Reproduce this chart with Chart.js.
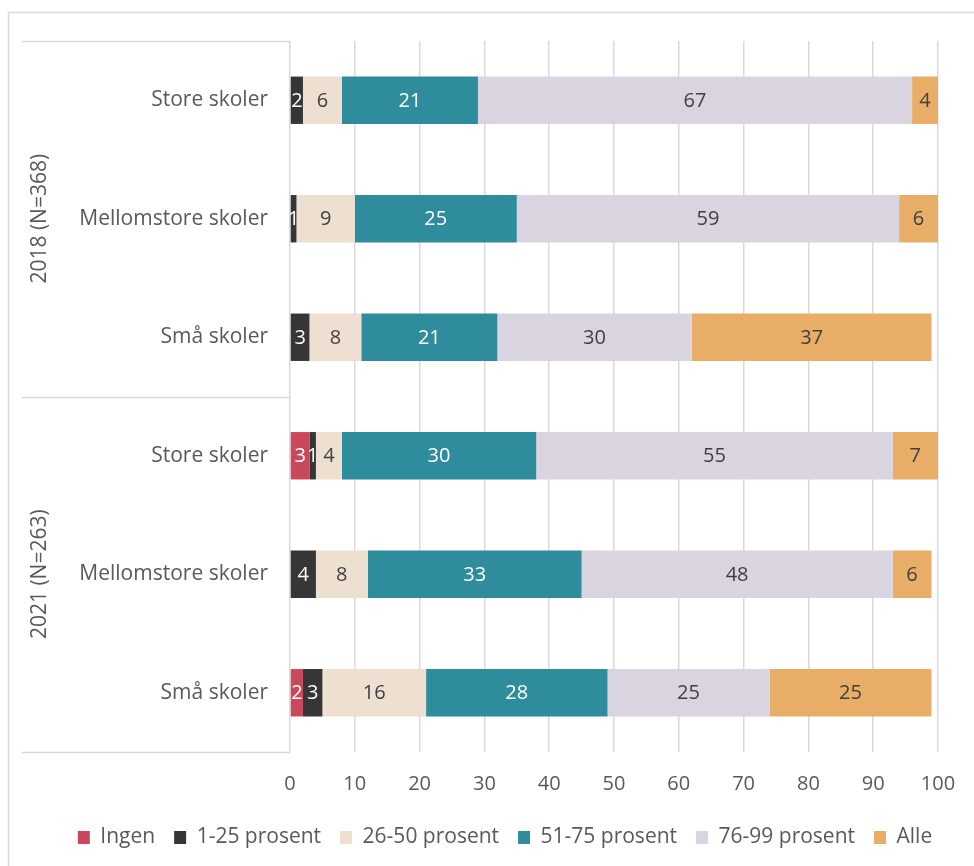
<!DOCTYPE html>
<html>
<head>
<meta charset="utf-8">
<script src="https://cdn.jsdelivr.net/npm/chart.js@4.4.1/dist/chart.umd.min.js"></script>
<style>
  html, body { margin: 0; padding: 0; background: #fff; }
  #wrap { width: 974px; height: 866px; position: relative; }
</style>
</head>
<body>
<div id="wrap"><canvas id="chart"></canvas></div>
<script>
// Kategorier (skolestørrelse) og grupper (år)
const categories = ['Store skoler', 'Mellomstore skoler', 'Små skoler', 'Store skoler', 'Mellomstore skoler', 'Små skoler'];
const groups = ['2018 (N=368)', '2021 (N=263)'];
const xTicks = [0, 10, 20, 30, 40, 50, 60, 70, 80, 90, 100];

// Andeler per svarkategori
const ingen      = [0, 0, 0, 3, 0, 2];
const prosent1   = [2, 1, 3, 1, 4, 3];
const prosent26  = [6, 9, 8, 4, 8, 16];
const prosent51  = [21, 25, 21, 30, 33, 28];
const prosent76  = [67, 59, 30, 55, 48, 25];
const alle       = [4, 6, 37, 7, 6, 25];

const FONT = '"Open Sans", sans-serif';
const GREY = '#595959';
const LINE = '#D9D9D9';

const series = [
    { label: 'Ingen', data: ingen, color: '#C9485B', text: '#ffffff' },
    { label: '1-25 prosent', data: prosent1, color: '#363636', text: '#ffffff' },
    { label: '26-50 prosent', data: prosent26, color: '#EDE0D1', text: '#404040' },
    { label: '51-75 prosent', data: prosent51, color: '#2E8C9D', text: '#ffffff' },
    { label: '76-99 prosent', data: prosent76, color: '#DAD3E0', text: '#404040' },
    { label: 'Alle', data: alle, color: '#E8AE67', text: '#404040' }
];

// Tall inni søylene
const valueLabels = {
    id: 'valueLabels',
    afterDatasetsDraw(chart) {
        const ctx = chart.ctx;
        ctx.save();
        ctx.font = '20px ' + FONT;
        ctx.textAlign = 'center';
        ctx.textBaseline = 'middle';
        chart.data.datasets.forEach((ds, i) => {
            const meta = chart.getDatasetMeta(i);
            meta.data.forEach((bar, j) => {
                const v = ds.data[j];
                if (!v) return;
                ctx.fillStyle = series[i].text;
                ctx.fillText(String(v), (bar.x + bar.base) / 2, bar.y + 1);
            });
        });
        ctx.restore();
    }
};

// Ramme, gruppelinjer og gruppetekster
const frame = {
    id: 'frame',
    beforeDraw(chart) {
        const ctx = chart.ctx;
        const area = chart.chartArea;
        ctx.save();
        ctx.strokeStyle = LINE;
        ctx.lineWidth = 1.5;
        ctx.beginPath();
        ctx.moveTo(8.5, 866);
        ctx.lineTo(8.5, 12.5);
        ctx.lineTo(974, 12.5);
        ctx.stroke();

        const mid = (area.top + area.bottom) / 2;
        [area.top, mid, area.bottom].forEach(y => {
            ctx.beginPath();
            ctx.moveTo(22, Math.round(y) + 0.5);
            ctx.lineTo(area.left, Math.round(y) + 0.5);
            ctx.stroke();
        });

        ctx.fillStyle = GREY;
        ctx.font = '21px ' + FONT;
        ctx.textAlign = 'center';
        ctx.textBaseline = 'middle';
        [(area.top + mid) / 2, (mid + area.bottom) / 2].forEach((y, i) => {
            ctx.save();
            ctx.translate(40, y);
            ctx.rotate(-Math.PI / 2);
            ctx.fillText(groups[i], 0, 0);
            ctx.restore();
        });
        ctx.restore();
    }
};

new Chart(document.getElementById('chart'), {
    type: 'bar',
    data: {
        labels: categories,
        datasets: series.map(s => ({
            label: s.label,
            data: s.data,
            backgroundColor: s.color,
            borderWidth: 0,
            barPercentage: 0.4,
            categoryPercentage: 1
        }))
    },
    options: {
        indexAxis: 'y',
        responsive: true,
        maintainAspectRatio: false,
        animation: false,
        layout: { padding: { top: 41, right: 0, bottom: 8, left: 36 } },
        scales: {
            x: {
                stacked: true,
                min: 0,
                max: 100,
                afterBuildTicks: s => { s.ticks = xTicks.map(v => ({ value: v })); },
                afterFit: s => { s.height = 56; s.paddingRight = 0; },
                grid: { color: LINE, lineWidth: 1.5, drawTicks: false },
                border: { display: false },
                ticks: { padding: 20, color: GREY, font: { family: FONT, size: 20 } }
            },
            y: {
                stacked: true,
                afterFit: s => { s.width = 254; },
                grid: { display: false, drawTicks: false },
                border: { display: false },
                ticks: { padding: 22, color: GREY, font: { family: FONT, size: 21 } }
            },
            // tom akse til høyre, holder plass for siste tallet på x-aksen
            yRight: {
                type: 'category',
                position: 'right',
                afterFit: s => { s.width = 36; },
                grid: { display: false, drawTicks: false },
                border: { display: false },
                ticks: { display: false }
            }
        },
        plugins: {
            legend: {
                position: 'bottom',
                labels: {
                    boxWidth: 12,
                    boxHeight: 13,
                    padding: 19,
                    color: GREY,
                    font: { family: FONT, size: 21 }
                }
            },
            tooltip: { enabled: false }
        }
    },
    plugins: [frame, valueLabels]
});
</script>
</body>
</html>
